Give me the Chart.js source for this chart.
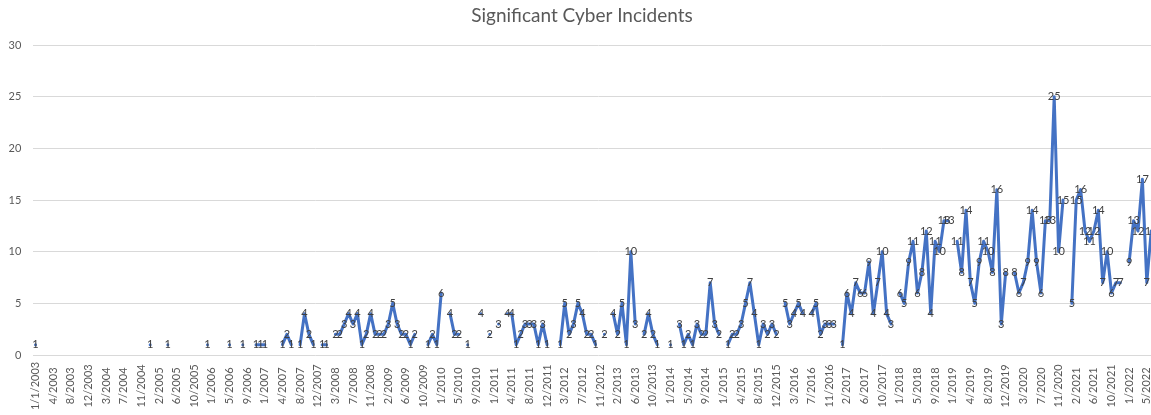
<!DOCTYPE html>
<html>
<head>
<meta charset="utf-8">
<title>Significant Cyber Incidents</title>
<script src="https://cdn.jsdelivr.net/npm/chart.js@4.4.1/dist/chart.umd.min.js"></script>
<style>
  html, body { margin: 0; padding: 0; background: #fff; overflow: hidden; }
  #wrap { width: 1164px; height: 415px; }
</style>
</head>
<body>
<div id="wrap"><canvas id="incidents" width="1164" height="415"></canvas></div>
<script>
// Significant Cyber Incidents, one count per reporting period.
// The axis shows a label every 4 periods; null = nothing reported (line breaks).
const _ = null;

const tickLabels = [
  "1/1/2003", "4/2003", "8/2003", "12/2003", "3/2004", "7/2004", "11/2004",
  "2/2005", "6/2005", "10/2005", "1/2006", "5/2006", "9/2006",
  "1/2007", "4/2007", "8/2007", "12/2007", "3/2008", "7/2008", "11/2008",
  "2/2009", "6/2009", "10/2009", "1/2010", "5/2010", "9/2010",
  "1/2011", "4/2011", "8/2011", "12/2011", "3/2012", "7/2012", "11/2012",
  "2/2013", "6/2013", "10/2013", "1/2014", "5/2014", "9/2014",
  "1/2015", "4/2015", "8/2015", "12/2015", "3/2016", "7/2016", "11/2016",
  "2/2017", "6/2017", "10/2017", "1/2018", "5/2018", "9/2018",
  "1/2019", "4/2019", "8/2019", "12/2019", "3/2020", "7/2020", "11/2020",
  "2/2021", "6/2021", "10/2021", "1/2022", "5/2022",
];

// one group of 4 = the periods starting at a tick label
const counts2003to2006 = [
  1, _, _, _,   _, _, _, _,   _, _, _, _,   _, _, _, _,
  _, _, _, _,   _, _, _, _,   _, _, 1, _,   _, _, 1, _,
  _, _, _, _,   _, _, _, 1,   _, _, _, _,   1, _, _, 1,
  _, _, 1, 1,
];
const counts2007to2010 = [
  1, _, _, _,   1, 2, 1, _,   1, 4, 2, 1,   _, 1, 1, _,
  2, 2, 3, 4,   3, 4, 1, 2,   4, 2, 2, 2,   3, 5, 3, 2,
  2, 1, 2, _,   _, 1, 2, 1,   6, _, 4, 2,   2, _, 1, _,
  _, 4, _, 2,
];
const counts2011to2014 = [
  _, 3, _, 4,   4, 1, 2, 3,   3, 3, 1, 3,   1, _, _, 1,
  5, 2, 3, 5,   4, 2, 2, 1,   _, 2, _, 4,   2, 5, 1, 10,
  3, _, 2, 4,   2, 1, _, _,   1, _, 3, 1,   2, 1, 3, 2,
  2, 7, 3, 2,
];
const counts2015to2018 = [
  _, 1, 2, 2,   3, 5, 7, 4,   1, 3, 2, 3,   2, _, 5, 3,
  4, 5, 4, _,   4, 5, 2, 3,   3, 3, _, 1,   6, 4, 7, 6,
  6, 9, 4, 7,   10, 4, 3, _,  6, 5, 9, 11,  6, 8, 12, 4,
  11, 10, 13, 13,
];
const counts2019to2022 = [
  _, 11, 8, 14,   7, 5, 9, 11,   10, 8, 16, 3,   8, _, 8, 6,
  7, 9, 14, 9,    6, 13, 13, 25, 10, 15, _, 5,   15, 16, 12, 11,
  12, 14, 7, 10,  6, 7, 7, _,    9, 13, 12, 17,  7, 12,
];

const counts = [].concat(
  counts2003to2006, counts2007to2010, counts2011to2014,
  counts2015to2018, counts2019to2022
);

const lineBlue = "#4472C4";
const axisGrey = "#595959";
const labelGrey = "#404040";
const gridGrey = "#d9d9d9";

// Excel-style data labels, centred on each point
const valueLabels = {
  id: "valueLabels",
  afterDatasetsDraw(chart) {
    const { ctx } = chart;
    const meta = chart.getDatasetMeta(0);
    ctx.save();
    ctx.font = "11px Lato";
    ctx.fillStyle = labelGrey;
    ctx.textAlign = "center";
    ctx.textBaseline = "middle";
    meta.data.forEach((pt, i) => {
      if (counts[i] == null) return;
      ctx.fillText(String(counts[i]), pt.x, pt.y);
    });
    ctx.restore();
  },
};

// date labels turned 90°, centred in the band under the axis like Excel does
const dateLabels = {
  id: "dateLabels",
  afterDraw(chart) {
    const { ctx, scales: { x } } = chart;
    const mid = x.top + x.height * 0.515;
    ctx.save();
    ctx.font = "11px Lato";
    ctx.fillStyle = axisGrey;
    ctx.textAlign = "center";
    ctx.textBaseline = "middle";
    x.ticks.forEach((t, k) => {
      ctx.save();
      ctx.translate(x.getPixelForValue(t.value), mid);
      ctx.rotate(-Math.PI / 2);
      ctx.fillText(tickLabels[k], 0, 0);
      ctx.restore();
    });
    ctx.restore();
  },
};

new Chart(document.getElementById("incidents"), {
  type: "line",
  data: {
    datasets: [{
      data: counts.map((v, i) => ({ x: i, y: v })),
      borderColor: lineBlue,
      borderWidth: 3,
      borderJoinStyle: "round",
      borderCapStyle: "round",
      pointRadius: 0,
      pointHoverRadius: 0,
      spanGaps: false,
      tension: 0,
    }],
  },
  options: {
    responsive: false,
    animation: false,
    events: [],
    layout: { padding: 0 },
    plugins: {
      legend: { display: false },
      tooltip: { enabled: false },
      title: {
        display: true,
        text: "Significant Cyber Incidents",
        color: axisGrey,
        font: { family: "Lato", size: 19, weight: "normal" },
        padding: { top: 4.6, bottom: 17.6 },
      },
    },
    scales: {
      x: {
        type: "linear",
        min: -0.5,
        max: 255.9,
        grid: { display: false },
        border: { display: false },
        afterBuildTicks: (s) => { s.ticks = tickLabels.map((t, k) => ({ value: k * 4 })); },
        afterFit: (s) => { s.height = 60; },
        ticks: { display: false, autoSkip: false },
      },
      y: {
        min: 0,
        max: 30,
        afterFit: (s) => { s.width = 33.3; },
        grid: { color: gridGrey, drawTicks: false },
        border: { display: false },
        ticks: {
          stepSize: 5,
          padding: 12,
          color: axisGrey,
          font: { family: "Lato", size: 11 },
        },
      },
    },
  },
  plugins: [valueLabels, dateLabels],
});
</script>
</body>
</html>
